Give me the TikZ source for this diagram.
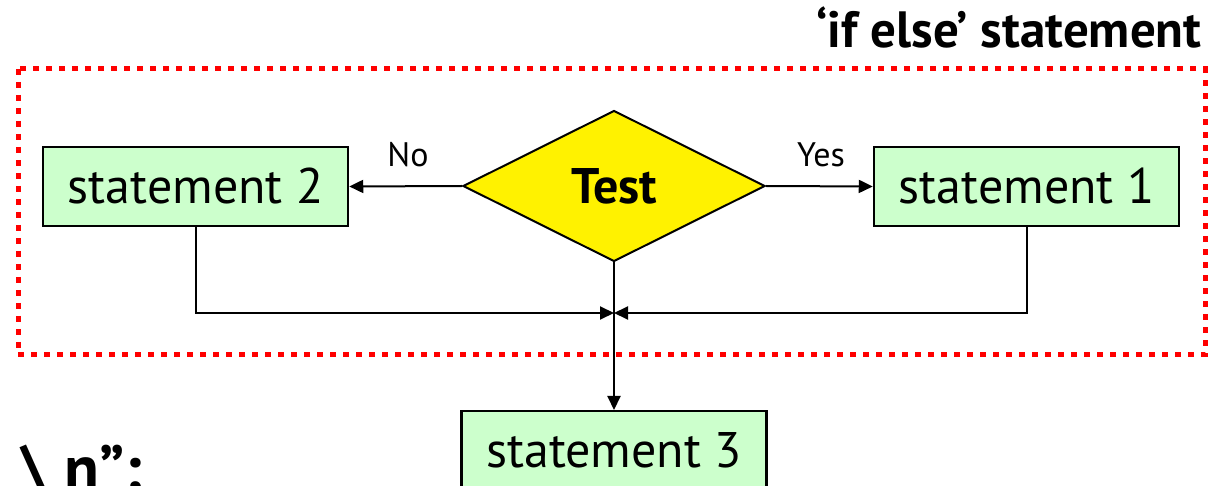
\documentclass[tikz,border=0pt]{standalone}
\usepackage{fontspec}
\setmainfont{PT Sans}
\usetikzlibrary{shapes.geometric,arrows.meta}
\definecolor{boxgreen}{HTML}{CCFFCC}
\tikzset{
  stmt/.style={draw=black,line width=2.5pt,fill=boxgreen,minimum width=305pt,minimum height=79pt,inner sep=0pt,font=\fontsize{50}{56}\selectfont},
  testd/.style={draw=black,line width=2pt,fill=yellow,diamond,minimum width=302pt,minimum height=151pt,inner sep=0pt,font=\bfseries\fontsize{50}{56}\selectfont},
  conn/.style={line width=2pt,-{Triangle[length=14pt,width=13pt]}},
  lbl/.style={font=\fontsize{34}{38}\selectfont},
  frame/.style={draw=red,line width=5pt,dash pattern=on 6pt off 7pt}
}
\begin{document}
\begin{tikzpicture}[x=1pt,y=-1pt]
\clip (0,0) rectangle (1227,486);
\fill[white] (0,0) rectangle (1227,486);
\draw[frame] (18,69) rectangle (1205,355);
\node[anchor=base east,font=\bfseries\fontsize{51}{56}\selectfont] (title) at (1205,48) {‘if else’ statement};
\node[testd] (test) at (614,186) {Test};
\node[stmt] (s2) at (195.5,186.5) {statement 2};
\node[stmt] (s1) at (1026.5,186.5) {statement 1};
\node[stmt,anchor=north] (s3) at (614,410) {statement 3};
\coordinate (m) at (614,313);
\draw[conn] (test.west) -- (s2.east);
\draw[conn] (test.east) -- (s1.west);
\node[lbl] (no) at (408,155) {No};
\node[lbl] (yes) at (821,155) {Yes};
\draw[conn] (s2.south) |- (m);
\draw[conn] (s1.south) |- (m);
\draw[conn] (test.south) -- (s3.north);
\node[anchor=base west,font=\bfseries\fontsize{64}{70}\selectfont] (tail) at (18,490) {\textbackslash\ n”;};
\end{tikzpicture}
\end{document}
